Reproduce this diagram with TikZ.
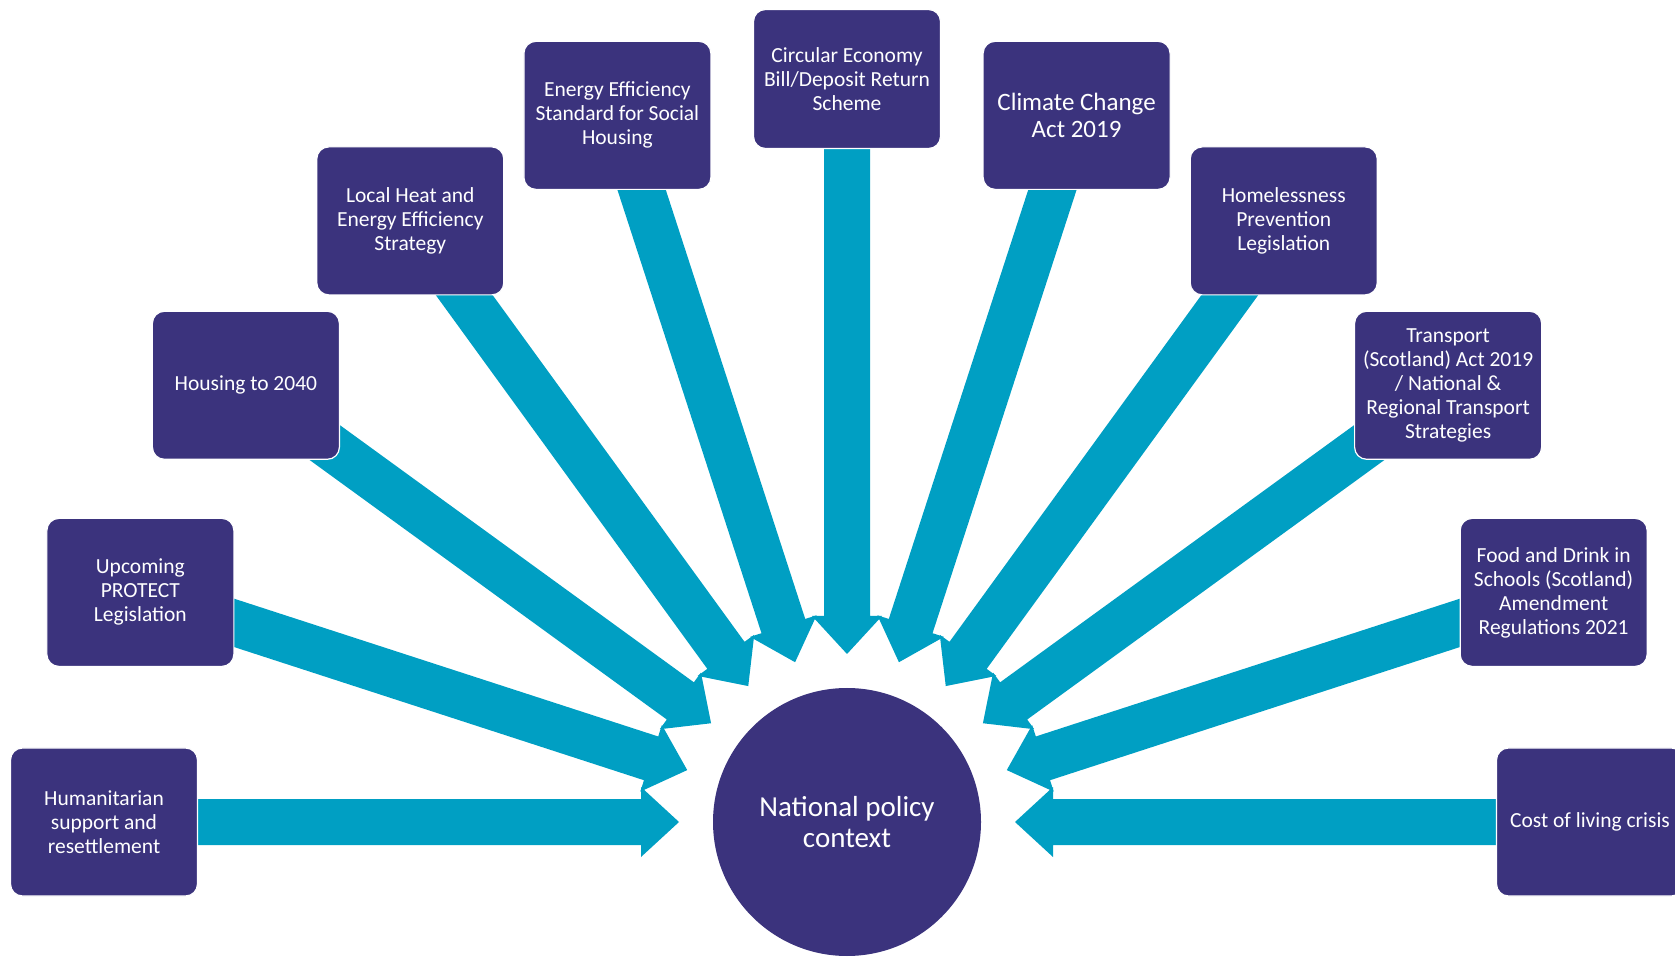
\documentclass[tikz,border=0pt]{standalone}
\usepackage{fontspec}
\setmainfont{Carlito}
\usetikzlibrary{calc}
\definecolor{boxpurple}{RGB}{59,51,125}
\definecolor{arrowteal}{RGB}{0,159,195}
\pgfdeclarelayer{arrowlayer}
\pgfsetlayers{arrowlayer,main}
\newcommand{\blockarrow}[1]{%
  \fill[arrowteal] ($(ctx.center)!168pt!(#1.center)$)
    -- ($(ctx.center)!206pt!(#1.center)!35pt!90:(#1.center)$)
    -- ($(ctx.center)!206pt!(#1.center)!23pt!90:(#1.center)$)
    -- ($(ctx.center)!690pt!(#1.center)!23pt!90:(#1.center)$)
    -- ($(ctx.center)!690pt!(#1.center)!23pt!-90:(#1.center)$)
    -- ($(ctx.center)!206pt!(#1.center)!23pt!-90:(#1.center)$)
    -- ($(ctx.center)!206pt!(#1.center)!35pt!-90:(#1.center)$)
    -- cycle;}
\tikzset{
  policybox/.style={rectangle, rounded corners=12pt, fill=boxpurple, draw=white,
    line width=1.2pt, minimum width=187pt, minimum height=148pt, inner sep=0pt,
    align=center, text=white, font=\fontsize{21.5pt}{24pt}\selectfont},
  hub/.style={circle, fill=boxpurple, minimum size=268pt, inner sep=0pt,
    align=center, text=white, font=\fontsize{29pt}{31pt}\selectfont}
}
\begin{document}
\begin{tikzpicture}[x=1pt,y=1pt]
\useasboundingbox (0,0) rectangle (1675,956);
\node[hub] (ctx) at (847,134) {National policy\\context};
\node[policybox] (hum) at ($(ctx.center)+(180:743)$) {Humanitarian\\support and\\resettlement};
\node[policybox] (protect) at ($(ctx.center)+(162:743)$) {Upcoming\\PROTECT\\Legislation};
\node[policybox] (housing) at ($(ctx.center)+(144:743)$) {Housing to 2040};
\node[policybox] (heat) at ($(ctx.center)+(126:743)$) {Local Heat and\\Energy Efficiency\\Strategy};
\node[policybox] (eess) at ($(ctx.center)+(108:743)$) {Energy Efficiency\\Standard for Social\\Housing};
\node[policybox, minimum height=139pt] (circ) at ($(ctx.center)+(90:743)$) {Circular Economy\\Bill/Deposit Return\\Scheme};
\node[policybox, font=\fontsize{25pt}{27pt}\selectfont] (climate) at ($(ctx.center)+(72:743)$) {Climate Change\\Act 2019};
\node[policybox] (homeless) at ($(ctx.center)+(54:743)$) {Homelessness\\Prevention\\Legislation};
\node[policybox] (transport) at ($(ctx.center)+(36:743)$) {Transport\\(Scotland) Act 2019\\/ National \&\\Regional Transport\\Strategies};
\node[policybox] (food) at ($(ctx.center)+(18:743)$) {Food and Drink in\\Schools (Scotland)\\Amendment\\Regulations 2021};
\node[policybox] (cost) at ($(ctx.center)+(0:743)$) {Cost of living crisis};
\begin{pgfonlayer}{arrowlayer}
\foreach \b in {hum,protect,housing,heat,eess,circ,climate,homeless,transport,food,cost}{\blockarrow{\b}}
\end{pgfonlayer}
\end{tikzpicture}
\end{document}
